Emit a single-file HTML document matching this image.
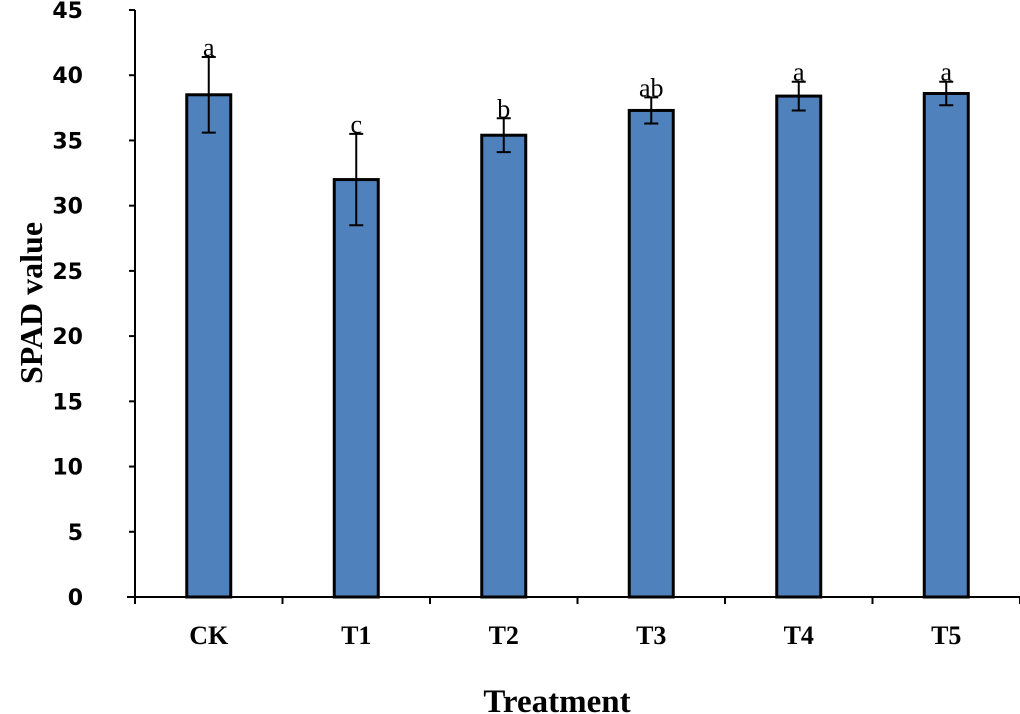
<!DOCTYPE html>
<html><head><meta charset="utf-8"><style>
body{margin:0;background:#fff}
svg{display:block}
.tick{font-family:"DejaVu Sans","Liberation Sans",sans-serif;font-weight:bold;font-size:22px}
.cat{font-family:"Liberation Serif",serif;font-weight:bold;font-size:26px}
.sig{font-family:"Liberation Serif",serif;font-size:26px}
</style></head><body>
<svg id="chart" width="1020" height="714">
<text class="cat" x="0" y="0" transform="translate(42,303) rotate(-90)" text-anchor="middle" style="font-size:32px">SPAD value</text>
<text class="cat" x="557" y="712" text-anchor="middle" style="font-size:33px">Treatment</text>
</svg>
<script>
const categories=["CK","T1","T2","T3","T4","T5"];
const values=[38.5,32.0,35.4,37.3,38.4,38.6];
const errors=[2.9,3.5,1.3,1.0,1.1,0.9];
const letters=["a","c","b","ab","a","a"];
const yTicks=[0,5,10,15,20,25,30,35,40,45];
const svg=document.getElementById('chart');
const NS='http://www.w3.org/2000/svg';
const x0=135,x1=1020,yBase=597,yTop=10,yMax=45;
const band=(x1-x0)/categories.length;
const y=v=>yBase-(v/yMax)*(yBase-yTop);
const xc=i=>x0+band*(i+0.5);
function mk(t,a){const e=document.createElementNS(NS,t);for(const k in a)e.setAttribute(k,a[k]);svg.appendChild(e);return e;}
const ax=mk('line',{x1:x0,y1:y(yMax),x2:x0,y2:yBase,stroke:'#000','stroke-width':2});


yTicks.forEach(t=>{
 const l=mk('line',{x1:x0-6,y1:y(t),x2:x0,y2:y(t),stroke:'#000','stroke-width':2});
 
 
 const tx=mk('text',{x:83,y:y(t)+8,'text-anchor':'end',class:'tick'});
 tx.textContent=t;
 
 
});
categories.forEach((c,i)=>{
 const bw=44,cx=xc(i);
 const r=mk('rect',{x:cx-bw/2,y:y(values[i]),width:bw,height:yBase-y(values[i]),fill:'#4f81bd',stroke:'#000','stroke-width':3});
 
 
 const hi=y(values[i]+errors[i]),lo=y(values[i]-errors[i]);
 const g=mk('path',{d:`M${cx},${hi}V${lo}M${cx-7},${hi}H${cx+7}M${cx-7},${lo}H${cx+7}`,stroke:'#000','stroke-width':2,fill:'none'});
 
 
 const s=mk('text',{x:cx,y:hi-1,'text-anchor':'middle',class:'sig'});
 s.textContent=letters[i];
 
 
 const cl=mk('text',{x:cx,y:644,'text-anchor':'middle',class:'cat'});
 cl.textContent=c;
 
 
});
for(let i=0;i<=categories.length;i++){
 const l=mk('line',{x1:x0+band*i,y1:yBase,x2:x0+band*i,y2:yBase+7,stroke:'#000','stroke-width':2});
 
 
}
const xa=mk('line',{x1:x0-8,y1:yBase,x2:x1,y2:yBase,stroke:'#000','stroke-width':2});


</script>
</body></html>
